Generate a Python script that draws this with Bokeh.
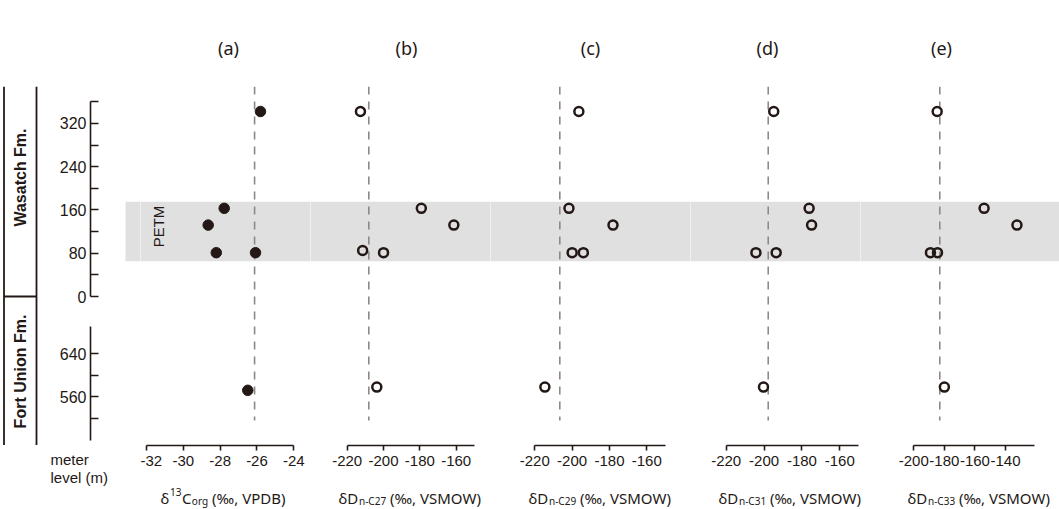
from math import pi
from bokeh.plotting import figure
from bokeh.models import Range1d, LinearAxis, FixedTicker, BoxAnnotation, Label, Span
from bokeh.core.properties import value
from bokeh.layouts import row, column
from bokeh.embed import file_html
from bokeh.resources import INLINE

# ------------------------------------------------------------------ data
panel_labels = ["(a)", "(b)", "(c)", "(d)", "(e)"]

# Wasatch Fm. samples (meter level) and values
depth_a = [342, 163, 132, 81, 81]
val_a = [-25.81, -27.78, -28.65, -28.21, -26.08]
fu_depth_a = [572]
fu_val_a = [-26.50]
mean_a = -26.13

depth_b = [342, 163, 132, 85, 81]
val_b = [-212.7, -179.2, -161.3, -211.5, -200.0]
fu_depth_b = [578]
fu_val_b = [-203.7]
mean_b = -208.1

depth_c = [342, 163, 132, 81, 81]
val_c = [-196.4, -201.7, -178.1, -200.0, -194.0]
fu_depth_c = [578]
fu_val_c = [-214.6]
mean_c = -206.6

depth_d = [342, 163, 132, 81, 81]
val_d = [-194.9, -176.2, -174.9, -204.3, -193.6]
fu_depth_d = [578]
fu_val_d = [-200.3]
mean_d = -197.8

depth_e = [342, 163, 132, 81, 81]
val_e = [-184.7, -154.0, -132.5, -189.1, -184.5]
fu_depth_e = [578]
fu_val_e = [-180.0]
mean_e = -183.0

ticks_a = [-32, -30, -28, -26, -24]
ticks_bcd = [-220, -200, -180, -160]
ticks_e = [-200, -180, -160, -140]

wasatch_ticks = [0, 80, 160, 240, 320]
wasatch_minor = [40, 120, 200, 280, 360]
fu_ticks = [560, 640]
fu_minor = [520, 600]

petm_bottom, petm_top = 65, 175
formation_contact = 0

# ------------------------------------------------------------------ layout (image pixels)
INK = "#231815"
BAND = "#e0e0e0"
PX = 0.541            # px per meter
W0 = 296.0            # image y of Wasatch 0 m
FU560 = 396.3         # image y of Fort Union 560 m
TOP, BOT = 86, 445    # frame top / bottom (image y)
SPLIT = 311           # split between the two axis sections
AXB = 476             # bottom of panel figures (below tick labels)
WIDTH, HEIGHT = 1059, 509

def w_val(py):
    return (W0 - py) / PX

def fu_val(py):
    return 560 + (FU560 - py) / PX

W_RANGE = (w_val(BOT), w_val(TOP))
FU_RANGE = (fu_val(BOT), fu_val(TOP))

ARIAL = "Liberation Sans"
MYRIAD = "Noto Sans"

CW = {" ": 0.26, "(": 0.30, ")": 0.30, ",": 0.25, "-": 0.32, "‰": 1.10,
      "δ": 0.60, "C": 0.63, "D": 0.73, "M": 0.90, "O": 0.78, "P": 0.60,
      "S": 0.55, "V": 0.61, "W": 0.93, "B": 0.65, "o": 0.60, "r": 0.41,
      "g": 0.61, "n": 0.61}
def tw(s, size):
    return sum(CW.get(c, 0.57) for c in s) * size

def base_fig(width, height, xr, yr, mbt=0, mbb=0, mbl=0, transparent=False):
    p = figure(width=width, height=height, x_range=Range1d(*xr), y_range=Range1d(*yr),
               output_backend="svg", toolbar_location=None,
               x_axis_location=None, y_axis_location=None,
               min_border=0, min_border_top=mbt, min_border_bottom=mbb,
               min_border_left=mbl, min_border_right=0)
    p.outline_line_color = None
    p.grid.visible = False
    if transparent:
        p.background_fill_color = None
        p.border_fill_color = None
    else:
        p.background_fill_color = "white"
        p.border_fill_color = "white"
    return p

def strip(x0, x1, y0, y1):
    # a text strip that uses image pixel coordinates (y grows downwards)
    return base_fig(x1 - x0, y1 - y0, (x0, x1), (y1, y0))

def put_text(p, x, y, txt, size, font=MYRIAD, align="left", baseline="alphabetic", style="normal"):
    p.text(x=[x], y=[y], text=[txt], text_font=value(font), text_font_size=value(f"{size}px"),
           text_color=INK, text_align=align, text_baseline=baseline,
           text_font_style=style)

# ------------------------------------------------------------------ top strip: panel letters
top = strip(0, WIDTH, 0, TOP)
for lab, xc in zip(panel_labels, [228, 406, 590, 767, 941]):
    put_text(top, xc, 47, lab, 18, align="center", baseline="middle")

# ------------------------------------------------------------------ formation column
F = base_fig(50, BOT - TOP, (0, 50), W_RANGE)
F.extra_y_ranges = {"fu": Range1d(*FU_RANGE)}
for xl in (3.5, 36):
    F.add_layout(Span(location=xl, dimension="height", line_color=INK, line_width=1.8))
F.segment(x0=[3.5], y0=[formation_contact], x1=[36], y1=[formation_contact],
          line_color=INK, line_width=1.8)
F.add_layout(Label(x=20, y=BOT - 177, x_units="screen", y_units="screen",
                   text="Wasatch Fm.", angle=pi / 2, text_font=ARIAL,
                   text_font_size="16px", text_font_style="bold", text_color=INK,
                   text_align="center", text_baseline="middle"))
F.add_layout(Label(x=20, y=BOT - 371, x_units="screen", y_units="screen",
                   text="Fort Union Fm.", angle=pi / 2, text_font=ARIAL,
                   text_font_size="16px", text_font_style="bold", text_color=INK,
                   text_align="center", text_baseline="middle"))

# ------------------------------------------------------------------ meter-level axes
def y_axis(bounds, ticks, minor):
    ax = LinearAxis(bounds=bounds, ticker=FixedTicker(ticks=ticks, minor_ticks=minor))
    ax.axis_line_color = INK
    ax.axis_line_width = 1.6
    ax.major_tick_line_color = INK
    ax.minor_tick_line_color = INK
    ax.major_tick_line_width = 1.6
    ax.minor_tick_line_width = 1.6
    ax.major_tick_in = 8
    ax.major_tick_out = 0
    ax.minor_tick_in = 8
    ax.minor_tick_out = 0
    ax.major_label_standoff = 4
    ax.major_label_text_font = ARIAL
    ax.major_label_text_font_size = "16px"
    ax.major_label_text_color = INK
    return ax

YT = base_fig(90, SPLIT - TOP, (0, 50), (w_val(SPLIT), w_val(TOP)), mbl=40, transparent=True)
YT.add_layout(y_axis((0, 360), wasatch_ticks, wasatch_minor), "left")
YT.add_layout(BoxAnnotation(left=35, right=60, bottom=petm_bottom, top=petm_top,
                            fill_color=BAND, fill_alpha=1, line_color=None,
                            level="underlay"))

YB = base_fig(90, BOT - SPLIT, (0, 50), (fu_val(BOT), fu_val(SPLIT)), mbl=40)
YB.add_layout(y_axis((480, 690), fu_ticks, fu_minor), "left")

meter = strip(0, 140, BOT, HEIGHT)
put_text(meter, 50, 459, "meter", 15, font=ARIAL)
put_text(meter, 50, 477, "level (m)", 15, font=ARIAL)

left_col = column(row(F, column(YT, YB)), meter)

# ------------------------------------------------------------------ panels
SUP, SUB = -6, 3
panels = [
    dict(frame=(140, 310), ref=((-32, 146.0), (-24, 293.3)), bounds=(-32, -24), ticks=ticks_a,
         d=depth_a, v=val_a, fd=fu_depth_a, fv=fu_val_a, mean=mean_a, filled=True,
         title_x=160,
         title=[("δ", 15, 0, 0.5), ("13", 10, SUP, 0.5), ("C", 15, 0, 0.5), ("org", 10, SUB, 4),
                ("(‰, VPDB)", 15, 0, 0)]),
    dict(frame=(310, 490), ref=((-220, 346.7), (-160, 455.7)), bounds=(-220, -150), ticks=ticks_bcd,
         d=depth_b, v=val_b, fd=fu_depth_b, fv=fu_val_b, mean=mean_b, filled=False,
         title_x=338,
         title=[("δD", 15, 0, 0.5), ("n-C27", 10, SUB, 4), ("(‰, VSMOW)", 15, 0, 0)]),
    dict(frame=(490, 690), ref=((-220, 534.3), (-160, 646.3)), bounds=(-220, -150), ticks=ticks_bcd,
         d=depth_c, v=val_c, fd=fu_depth_c, fv=fu_val_c, mean=mean_c, filled=False,
         title_x=528,
         title=[("δD", 15, 0, 0.5), ("n-C29", 10, SUB, 4), ("(‰, VSMOW)", 15, 0, 0)]),
    dict(frame=(690, 860), ref=((-220, 725.7), (-160, 839.3)), bounds=(-220, -150), ticks=ticks_bcd,
         d=depth_d, v=val_d, fd=fu_depth_d, fv=fu_val_d, mean=mean_d, filled=False,
         title_x=718,
         title=[("δD", 15, 0, 0.5), ("n-C31", 10, SUB, 4), ("(‰, VSMOW)", 15, 0, 0)]),
    dict(frame=(860, 1059), ref=((-200, 913.3), (-140, 1005.0)), bounds=(-200, -121), ticks=ticks_e,
         d=depth_e, v=val_e, fd=fu_depth_e, fv=fu_val_e, mean=mean_e, filled=False,
         title_x=907,
         title=[("δD", 15, 0, 0.5), ("n-C33", 10, SUB, 4), ("(‰, VSMOW)", 15, 0, 0)]),
]

titles = strip(140, WIDTH, AXB, HEIGHT)
TITLE_BASE = 497

figs = []
for i, pd_ in enumerate(panels):
    fl, fr = pd_["frame"]
    (v1, p1), (v2, p2) = pd_["ref"]
    s = (p2 - p1) / (v2 - v1)
    xr = (v1 - (p1 - fl) / s, v1 + (fr - p1) / s)
    p = base_fig(fr - fl, AXB - TOP, xr, W_RANGE, mbb=AXB - BOT, transparent=True)
    p.extra_y_ranges = {"fu": Range1d(*FU_RANGE)}

    span = xr[1] - xr[0]
    p.add_layout(BoxAnnotation(left=xr[0] - span, right=xr[1] + span,
                               bottom=petm_bottom, top=petm_top, fill_color=BAND,
                               fill_alpha=1, line_color=None, level="underlay"))
    p.segment(x0=[pd_["mean"]], y0=[w_val(TOP)], x1=[pd_["mean"]], y1=[w_val(420)],
              line_color="#8e8886", line_width=1.6, line_dash="8 7")

    if pd_["filled"]:
        kw = dict(size=10.5, fill_color=INK, line_color=INK)
    else:
        kw = dict(size=9, fill_color=None, line_color=INK, line_width=2.5)
    p.scatter(x=pd_["v"], y=pd_["d"], marker="circle", **kw)
    p.scatter(x=pd_["fv"], y=pd_["fd"], marker="circle", y_range_name="fu", **kw)

    ax = LinearAxis(bounds=pd_["bounds"], ticker=FixedTicker(ticks=pd_["ticks"], minor_ticks=[]))
    ax.major_label_overrides = {t: str(t) for t in pd_["ticks"]}
    ax.axis_line_color = INK
    ax.axis_line_width = 1.6
    ax.major_tick_line_color = INK
    ax.major_tick_line_width = 1.6
    ax.major_tick_in = 0
    ax.major_tick_out = 5
    ax.minor_tick_in = 0
    ax.minor_tick_out = 0
    ax.major_label_standoff = 5
    ax.major_label_text_font = ARIAL
    ax.major_label_text_font_size = "15px"
    ax.major_label_text_color = INK
    p.add_layout(ax, "below")

    x = pd_["title_x"]
    for txt, size, dy, pad in pd_["title"]:
        put_text(titles, x, TITLE_BASE + dy, txt, size)
        x += tw(txt, size) + pad

    if i == 0:
        p.add_layout(Label(x=18, y=BOT - 226, x_units="screen", y_units="screen",
                           text="PETM", angle=pi / 2, text_font=ARIAL,
                           text_font_size="15px", text_color=INK,
                           text_align="center", text_baseline="middle"))
    figs.append(p)

right_col = column(row(*figs), titles)
layout = column(top, row(left_col, right_col))

open("out.html", "w").write(file_html(layout, INLINE))
